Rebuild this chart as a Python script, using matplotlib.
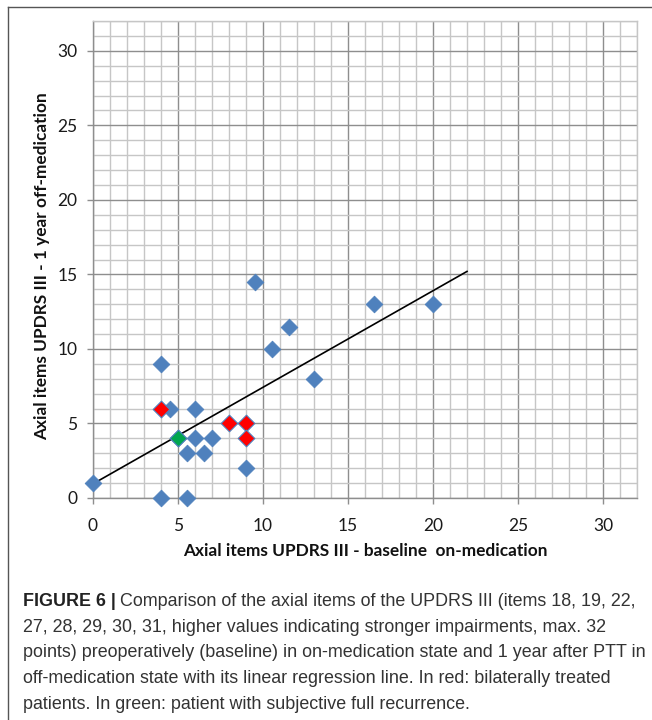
import matplotlib
matplotlib.use("Agg")
import matplotlib.pyplot as plt
from matplotlib.lines import Line2D

# ---- data ----
blue_x = [0, 4, 4, 5.5, 4.5, 6, 6, 7, 5.5, 6.5, 9, 9.5, 10.5, 11.5, 13, 16.5, 20, 5]
blue_y = [1, 9, 0, 0, 6, 6, 4, 4, 3, 3, 2, 14.5, 10, 11.5, 8, 13, 13, 4]
red_x = [4, 8, 9, 9]
red_y = [6, 5, 5, 4]
green_x = [5]
green_y = [4]
trend_x = [0, 22]
trend_y = [0.95, 15.2]
major_ticks = [0, 5, 10, 15, 20, 25, 30]
axis_max = 32

xlabel = "Axial items UPDRS III - baseline  on-medication"
ylabel = "Axial items UPDRS III - 1 year off-medication"
caption_bold = "FIGURE 6 |"
caption_lines = [
    "Comparison of the axial items of the UPDRS III (items 18, 19, 22,",
    "27, 28, 29, 30, 31, higher values indicating stronger impairments, max. 32",
    "points) preoperatively (baseline) in on-medication state and 1 year after PTT in",
    "off-medication state with its linear regression line. In red: bilaterally treated",
    "patients. In green: patient with subjective full recurrence.",
]

W, H = 652, 720
fig = plt.figure(figsize=(W / 100, H / 100), dpi=100)
fig.patch.set_facecolor("white")


def fx(x):
    return x / W


def fy(y):
    return 1 - y / H


# outer frame (left and top lines)
fig.add_artist(Line2D([fx(7.5), fx(7.5)], [fy(6.5), fy(720)], color="#555555", lw=1.0))
fig.add_artist(Line2D([fx(7.5), fx(652)], [fy(6.5), fy(6.5)], color="#555555", lw=1.0))

left, right, top, bottom = 93, 637, 21, 498
ax = fig.add_axes([fx(left), fy(bottom), fx(right - left), (bottom - top) / H])
ax.set_xlim(0, axis_max)
ax.set_ylim(0, axis_max)

major_c = "#8e8e8e"
minor_c = "#c6c6c6"
ax.set_xticks(major_ticks)
ax.set_yticks(major_ticks)
ax.set_xticks(range(0, axis_max + 1), minor=True)
ax.set_yticks(range(0, axis_max + 1), minor=True)
ax.grid(which="minor", color=minor_c, lw=1.0, zorder=0)
ax.grid(which="major", color=major_c, lw=1.0, zorder=0)
ax.set_axisbelow(True)
for s in ["left", "bottom"]:
    ax.spines[s].set_color(major_c)
    ax.spines[s].set_linewidth(1.0)
for s in ["top", "right"]:
    ax.spines[s].set_color(minor_c)
    ax.spines[s].set_linewidth(1.0)

ax.tick_params(which="major", direction="out", length=4.3, width=1.0, color=major_c,
               labelsize=12.5, labelcolor="#1a1a1a")
ax.tick_params(axis="x", which="major", pad=10)
ax.tick_params(axis="y", which="major", pad=7)
ax.tick_params(which="minor", length=0)
for lab in ax.get_xticklabels() + ax.get_yticklabels():
    lab.set_family("Lato")

blue = "#4F81BD"
ax.plot(trend_x, trend_y, color="black", lw=1.2, zorder=3)
ax.scatter(blue_x, blue_y, marker="D", s=72, color=blue, edgecolors=blue, linewidths=0.6,
           zorder=4, clip_on=False)
ax.scatter(red_x, red_y, marker="D", s=72, color="#FF0000", edgecolors=blue, linewidths=0.8,
           zorder=5, clip_on=False)
ax.scatter(green_x, green_y, marker="D", s=72, color="#00A650", edgecolors=blue, linewidths=0.8,
           zorder=5, clip_on=False)

fig.text(fx(365), fy(551), xlabel, ha="center", va="center", fontsize=12.4,
         fontweight="bold", family="Lato", color="#111111")
fig.text(fx(42), fy(266), ylabel, ha="center", va="center", rotation=90, fontsize=12.4,
         fontweight="bold", family="Lato", color="#111111")

# caption
cap_font = "Liberation Sans"
cap_size = 12.9
baselines = [606, 632, 657, 683, 709]
fig.canvas.draw()
r = fig.canvas.get_renderer()
tb = fig.text(fx(23), fy(baselines[0]), caption_bold, fontsize=cap_size, fontweight="bold",
              family=cap_font, color="#222222", va="baseline")
bb = tb.get_window_extent(renderer=r)
fig.text(fx(bb.x1 + 4), fy(baselines[0]), caption_lines[0], fontsize=cap_size,
         family=cap_font, color="#333333", va="baseline")
for line, b in zip(caption_lines[1:], baselines[1:]):
    fig.text(fx(23), fy(b), line, fontsize=cap_size, family=cap_font, color="#333333",
             va="baseline")

fig.savefig("out.png", dpi=100)
